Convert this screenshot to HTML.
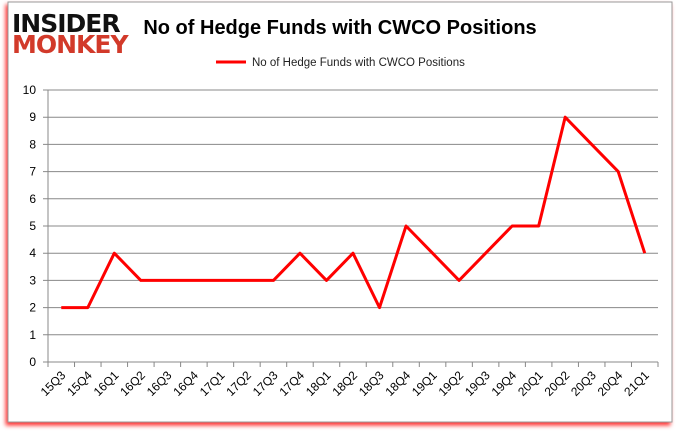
<!DOCTYPE html>
<html><head><meta charset="utf-8"><style>
body{margin:0;width:680px;height:433px;background:#fff;font-family:"Liberation Sans",sans-serif;overflow:hidden}
</style></head><body>
<svg width="680" height="433">
<defs><filter id="sh" x="-5%" y="-5%" width="110%" height="110%"><feDropShadow dx="-2" dy="3" stdDeviation="2" flood-color="#f00" flood-opacity="0.8"/></filter></defs>
<rect x="8" y="2" width="664" height="420" fill="#fff" stroke="#999" filter="url(#sh)"/>
<text x="12" y="32" font-size="25" font-weight="bold" fill="#111" font-family="DejaVu Sans" letter-spacing="-1">INSIDER</text>
<text x="12" y="53" font-size="25" font-weight="bold" fill="#d23a2a" font-family="DejaVu Sans" letter-spacing="-1">MONKEY</text>
<text x="340" y="34" font-size="20" font-weight="bold" text-anchor="middle" fill="#000">No of Hedge Funds with CWCO Positions</text>
<line x1="216" y1="62" x2="246" y2="62" stroke="#f00" stroke-width="3"/>
<text x="252" y="66" font-size="11.5" fill="#222">No of Hedge Funds with CWCO Positions</text>
<g id="grid"></g><g id="axes"></g>
<polyline id="line" fill="none" stroke="#f00" stroke-width="3" stroke-linejoin="round"/>
</svg>
<script>
const categories=["15Q3","15Q4","16Q1","16Q2","16Q3","16Q4","17Q1","17Q2","17Q3","17Q4","18Q1","18Q2","18Q3","18Q4","19Q1","19Q2","19Q3","19Q4","20Q1","20Q2","20Q3","20Q4","21Q1"];
const values=[2,2,4,3,3,3,3,3,3,4,3,4,2,5,4,3,4,5,5,9,8,7,4];
const yTicks=[0,1,2,3,4,5,6,7,8,9,10];
const L=48,R=658,T=90,B=362,yMax=10;
const bw=(R-L)/categories.length;
const x=i=>L+bw*(i+0.5), y=v=>B-(B-T)*v/yMax;
const ns="http://www.w3.org/2000/svg";
const g=document.getElementById('grid'),a=document.getElementById('axes');
function mk(tag,at,p,txt){const e=document.createElementNS(ns,tag);for(const k in at)e.setAttribute(k,at[k]);if(txt!=null)e.textContent=txt;p.appendChild(e);return e;}
yTicks.forEach(t=>{
 const l=mk('line',{x1:L-5,x2:R,y1:y(t),y2:y(t),stroke:'#888','stroke-width':1},g);
 
 
 const tx=mk('text',{x:L-12,y:y(t)+4,'font-size':12,'text-anchor':'end',fill:'#000'},a,t);
 
 
});
const ax=mk('line',{x1:L,x2:L,y1:T,y2:B,stroke:'#888'},a);


for(let i=0;i<=categories.length;i++){
 const tk=mk('line',{x1:L+bw*i,x2:L+bw*i,y1:B,y2:B+5,stroke:'#888'},a);
 
 
}
categories.forEach((c,i)=>{
 const cx=x(i)+5,cy=B+14;
 const t=mk('text',{x:cx,y:cy,'font-size':12,'text-anchor':'end',fill:'#000',transform:`rotate(-45 ${cx} ${cy})`},a,c);
 
 
});
document.getElementById('line').setAttribute('points',values.map((v,i)=>x(i)+','+y(v)).join(' '));
</script>
</body></html>
